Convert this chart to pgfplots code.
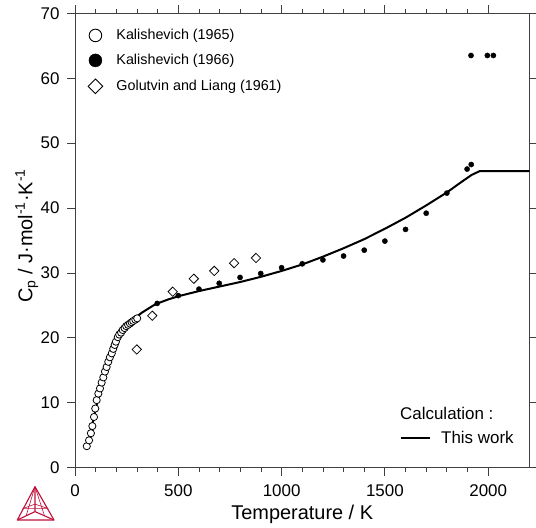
\documentclass[border=0pt]{standalone}
\usepackage{fontspec}
\setmainfont{Liberation Sans}
\usepackage{pgfplots}
\pgfplotsset{compat=1.18}
\usetikzlibrary{calc}
\definecolor{tcred}{HTML}{C0103A}

\pgfplotstableread{
T Cp
57 3.3
68 4.2
77 5.3
84 6.4
92 7.8
98 9.1
105 10.4
113 11.4
121 12.2
129 13.1
137 13.9
145 14.8
153 15.5
161 16.3
169 17.0
178 17.6
185 18.3
192 18.9
198 19.4
207 20.1
214 20.5
223 20.8
231 21.2
240 21.5
248 21.8
257 22.0
266 22.2
274 22.4
282 22.6
292 22.8
301 23.0
}\kalA

\pgfplotstableread{
T Cp
398 25.3
500 26.5
600 27.5
698 28.4
799 29.3
899 29.9
1000 30.8
1100 31.4
1200 32.0
1300 32.6
1400 33.5
1500 34.9
1600 36.7
1700 39.2
1800 42.3
1898 46.0
1918 46.7
1917 63.5
1996 63.5
2025 63.5
}\kalB

\pgfplotstableread{
T Cp
299 18.2
374 23.4
473 27.1
575 29.1
674 30.3
770 31.5
876 32.3
}\golu

\pgfplotstableread{
T Cp
55 3.0
60 3.5
70 4.7
80 6.1
90 7.5
100 9.0
110 10.4
120 11.7
130 13.0
140 14.1
150 15.1
160 16.1
170 17.0
180 17.8
190 18.6
200 19.3
215 20.2
230 21.0
250 21.8
275 22.6
300 23.3
325 23.9
350 24.4
375 24.9
400 25.3
450 25.9
500 26.4
600 27.2
700 27.9
800 28.6
900 29.4
1000 30.3
1100 31.3
1200 32.5
1300 33.8
1400 35.2
1500 36.8
1600 38.5
1700 40.4
1800 42.4
1870 44.0
1920 45.1
1960 45.7
2200 45.7
}\calc

\begin{document}
\begin{tikzpicture}
\begin{axis}[
  scale only axis, width=454.5bp, height=454.3bp,
  xmin=0, xmax=2200, ymin=0, ymax=70,
  xtick={0,500,...,2000}, minor x tick num=4,
  ytick={0,10,...,70},
  tick align=outside, tick pos=both,
  major tick length=8bp, minor tick length=4.5bp,
  axis line style={black!75, line width=1bp},
  every tick/.style={black!75, line width=0.8bp},
  /pgf/number format/assume math mode=true,
  /pgf/number format/1000 sep={},
  ticklabel style={font=\fontsize{17}{17}\selectfont},
  xticklabel style={yshift=-6bp},
  yticklabel style={xshift=-4bp},
  xlabel={Temperature / K},
  ylabel={C\textsubscript{p} / J·mol\textsuperscript{-1}·K\textsuperscript{-1}},
  label style={font=\fontsize{20}{20}\selectfont},
  xlabel style={at={(axis description cs:0.5,0)}, anchor=base, yshift=-51.4bp},
  ylabel style={at={(axis description cs:-0.106,0.51)}, anchor=center},
  legend cell align=left,
  legend style={at={(rel axis cs:0,1)}, anchor=north west, xshift=12.5bp, yshift=-15.2bp,
    draw=none, fill=none, inner sep=0pt, row sep=11.5bp,
    font=\fontsize{14.4}{14.4}\selectfont,
    nodes={inner sep=0pt}},
]
\coordinate (sw) at (rel axis cs:0,0);
\coordinate (ne) at (rel axis cs:1,1);

\addplot[black, line width=2bp, forget plot] table[x=T,y=Cp] {\calc};

\addplot[only marks, mark=*, mark size=3.6bp, mark options={draw=black, fill=white, line width=0.8bp},
  legend image code/.code={\draw[black, fill=white, line width=0.9bp] (0,0) circle (6.3bp);
    \path[draw=none, fill=none] (-6.5bp,-6.5bp) rectangle (21bp,6.5bp);}]
  table[x=T,y=Cp] {\kalA};
\addlegendentry{Kalishevich (1965)}

\addplot[only marks, mark=*, mark size=2.6bp, mark options={draw=black, fill=black},
  legend image code/.code={\fill[black] (0,0) circle (6.5bp);
    \path[draw=none, fill=none] (-6.5bp,-6.5bp) rectangle (21bp,6.5bp);}]
  table[x=T,y=Cp] {\kalB};
\addlegendentry{Kalishevich (1966)}

\addplot[only marks, mark=square, mark size=3.3bp, mark options={draw=black, fill=white, rotate=45, line width=0.8bp},
  legend image code/.code={\draw[black, fill=white, line width=0.9bp] (0,7.3bp) -- (7.3bp,0) -- (0,-7.3bp) -- (-7.3bp,0) -- cycle;
    \path[draw=none, fill=none] (-6.5bp,-6.5bp) rectangle (21bp,6.5bp);}]
  table[x=T,y=Cp] {\golu};
\addlegendentry{Golutvin and Liang (1961)}

\node[anchor=base west, inner sep=0pt, font=\fontsize{17}{17}\selectfont]
  at (rel axis cs:0,0) [xshift=325bp, yshift=48.3bp] {Calculation :};
\end{axis}

\begin{axis}[
  scale only axis, width=454.5bp, height=454.3bp,
  xmin=0, xmax=2200, ymin=0, ymax=70,
  hide axis,
  legend style={at={(rel axis cs:0,0)}, anchor=south west, xshift=325bp, yshift=22.3bp,
    draw=none, fill=none, inner sep=0pt,
    font=\fontsize{17}{17}\selectfont, nodes={inner sep=0pt}},
]
\addlegendimage{black, line width=2bp,
  legend image code/.code={\draw[black, line width=2bp] (0,0) -- (29bp,0);
    \path[draw=none, fill=none] (0,-6bp) rectangle (40bp,6bp);}}
\addlegendentry{This work}
\end{axis}

\pgfresetboundingbox
\path[use as bounding box] ($(sw)+(-75bp,-60.4bp)$) rectangle ($(ne)+(6.5bp,13.3bp)$);

% logo
\coordinate (LT) at ($(sw)+(-40bp,-19.1bp)$);
\coordinate (LL) at ($(sw)+(-57.7bp,-52.4bp)$);
\coordinate (LR) at ($(sw)+(-21bp,-52.4bp)$);
\coordinate (LC) at ($(sw)+(-40bp,-44bp)$);
\draw[tcred, line width=1.1bp, line join=round] (LT) -- (LL) -- (LR) -- cycle;
\draw[tcred, line width=1.1bp] (LC) -- (LT) (LC) -- (LL) (LC) -- (LR);
\draw[tcred, line width=0.6bp] (LT) -- ($(LL)!0.5!(LC)$) (LT) -- ($(LR)!0.5!(LC)$)
  ($(LL)!0.35!(LT)$) -- ($(LR)!0.35!(LT)$) -- ($(LC)!0.3!(LT)$) -- cycle;
\end{tikzpicture}
\end{document}
